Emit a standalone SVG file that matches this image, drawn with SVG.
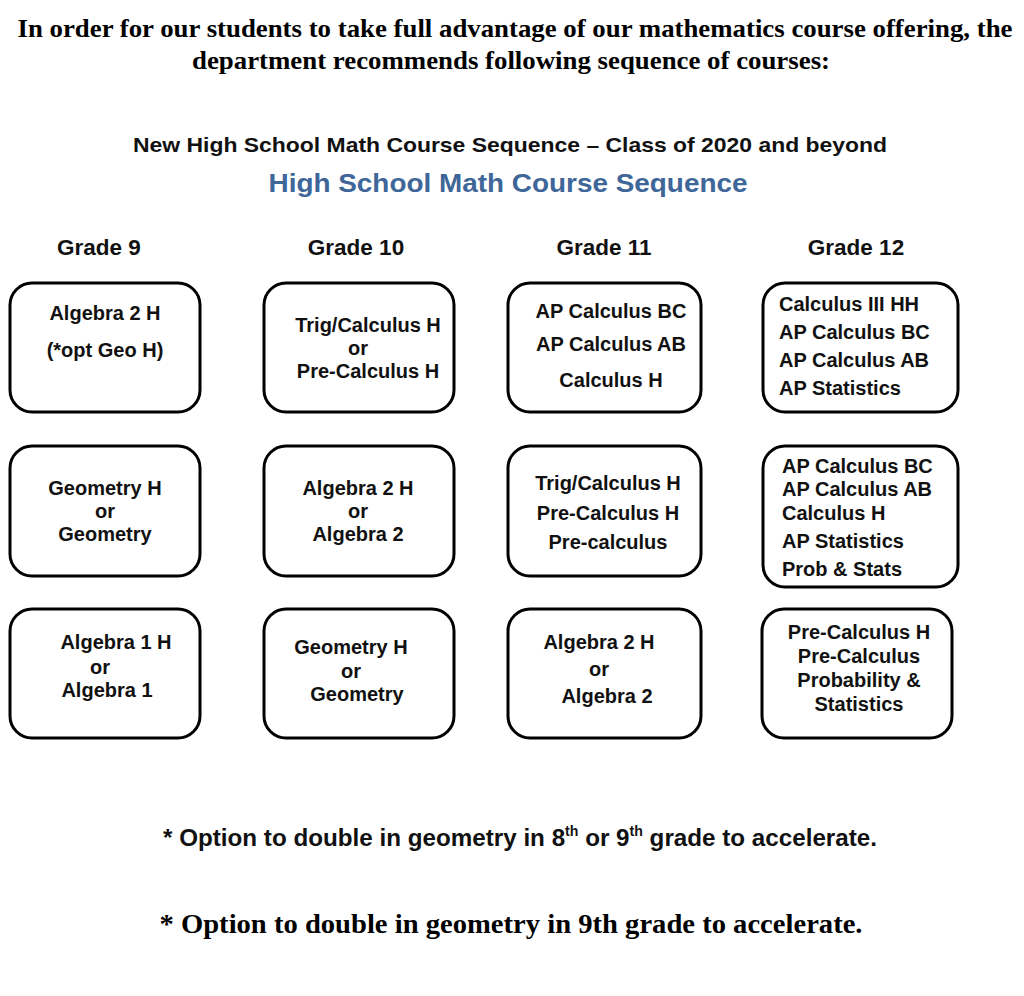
<svg xmlns="http://www.w3.org/2000/svg" width="1024" height="996" viewBox="0 0 1024 996">
<style>
.box{fill:#fff;stroke:#000;stroke-width:3}
.t{font-family:"Liberation Sans",Arial,sans-serif;font-weight:bold;font-size:20px;fill:#111}
.c{text-anchor:middle}
.g{font-family:"Liberation Sans",Arial,sans-serif;font-weight:bold;font-size:22.5px;fill:#111;text-anchor:middle}
.tt{font-family:"Liberation Serif","Times New Roman",serif;font-weight:bold;fill:#000;text-anchor:middle}
.sup{font-size:14px}
</style>
<rect width="1024" height="996" fill="#fff"/>
<g id="headings">
<text class="tt" x="515" y="37" style="font-size:25px" textLength="995" lengthAdjust="spacingAndGlyphs">In order for our students to take full advantage of our mathematics course offering, the</text>
<text class="tt" x="511" y="69" style="font-size:25px" textLength="638" lengthAdjust="spacingAndGlyphs">department recommends following sequence of courses:</text>
<text class="t c" x="510" y="152" style="font-size:21px" textLength="754" lengthAdjust="spacingAndGlyphs">New High School Math Course Sequence – Class of 2020 and beyond</text>
<text class="t c" x="508" y="192" style="font-size:26px;fill:#3e6699" textLength="479" lengthAdjust="spacingAndGlyphs">High School Math Course Sequence</text>
<text class="g" x="99" y="255">Grade 9</text>
<text class="g" x="356" y="255">Grade 10</text>
<text class="g" x="604" y="255">Grade 11</text>
<text class="g" x="856" y="255">Grade 12</text>
</g>
<g id="connectors"/>
<g id="g9-top"><rect class="box" x="10" y="283" width="190" height="129" rx="22"/>
<text class="t c" x="105" y="320">Algebra 2 H</text>
<text class="t c" x="105" y="357">(*opt Geo H)</text></g>
<g id="g10-top"><rect class="box" x="264" y="283" width="190" height="129" rx="22"/>
<text class="t c" x="368" y="332">Trig/Calculus H</text>
<text class="t c" x="358" y="355">or</text>
<text class="t c" x="368" y="378">Pre-Calculus H</text></g>
<g id="g11-top"><rect class="box" x="508" y="283" width="193" height="129" rx="22"/>
<text class="t c" x="611" y="318">AP Calculus BC</text>
<text class="t c" x="611" y="351">AP Calculus AB</text>
<text class="t c" x="611" y="387">Calculus H</text></g>
<g id="g12-top"><rect class="box" x="763" y="283" width="195" height="129" rx="22"/>
<text class="t" x="779" y="311">Calculus III HH</text>
<text class="t" x="779" y="339">AP Calculus BC</text>
<text class="t" x="779" y="367">AP Calculus AB</text>
<text class="t" x="779" y="395">AP Statistics</text></g>
<g id="g9-mid"><rect class="box" x="10" y="446" width="190" height="130" rx="22"/>
<text class="t c" x="105" y="495">Geometry H</text>
<text class="t c" x="105" y="518">or</text>
<text class="t c" x="105" y="541">Geometry</text></g>
<g id="g10-mid"><rect class="box" x="264" y="446" width="190" height="130" rx="22"/>
<text class="t c" x="358" y="495">Algebra 2 H</text>
<text class="t c" x="358" y="518">or</text>
<text class="t c" x="358" y="541">Algebra 2</text></g>
<g id="g11-mid"><rect class="box" x="508" y="446" width="193" height="130" rx="22"/>
<text class="t c" x="608" y="490">Trig/Calculus H</text>
<text class="t c" x="608" y="520">Pre-Calculus H</text>
<text class="t c" x="608" y="549">Pre-calculus</text></g>
<g id="g12-mid"><rect class="box" x="763" y="446" width="195" height="141" rx="22"/>
<text class="t" x="782" y="473">AP Calculus BC</text>
<text class="t" x="782" y="496">AP Calculus AB</text>
<text class="t" x="782" y="520">Calculus H</text>
<text class="t" x="782" y="548">AP Statistics</text>
<text class="t" x="782" y="576">Prob &amp; Stats</text></g>
<g id="g9-low"><rect class="box" x="10" y="609" width="190" height="129" rx="22"/>
<text class="t c" x="116" y="649">Algebra 1 H</text>
<text class="t c" x="100" y="674">or</text>
<text class="t c" x="107" y="697">Algebra 1</text></g>
<g id="g10-low"><rect class="box" x="264" y="609" width="190" height="129" rx="22"/>
<text class="t c" x="351" y="654">Geometry H</text>
<text class="t c" x="351" y="678">or</text>
<text class="t c" x="357" y="701">Geometry</text></g>
<g id="g11-low"><rect class="box" x="508" y="609" width="193" height="129" rx="22"/>
<text class="t c" x="599" y="649">Algebra 2 H</text>
<text class="t c" x="599" y="676">or</text>
<text class="t c" x="607" y="703">Algebra 2</text></g>
<g id="g12-low"><rect class="box" x="762" y="609" width="190" height="129" rx="22"/>
<text class="t c" x="859" y="639">Pre-Calculus H</text>
<text class="t c" x="859" y="663">Pre-Calculus</text>
<text class="t c" x="859" y="687">Probability &amp;</text>
<text class="t c" x="859" y="711">Statistics</text></g>
<g id="footnotes">
<text class="t" x="163" y="846" style="font-size:24px" textLength="714" lengthAdjust="spacingAndGlyphs">* Option to double in geometry in 8<tspan class="sup" dy="-10">th</tspan><tspan dy="10"> or 9</tspan><tspan class="sup" dy="-10">th</tspan><tspan dy="10"> grade to accelerate.</tspan></text>
<text class="tt" x="511" y="933" style="font-size:28px" textLength="703" lengthAdjust="spacingAndGlyphs">* Option to double in geometry in 9th grade to accelerate.</text>
</g>
</svg>
